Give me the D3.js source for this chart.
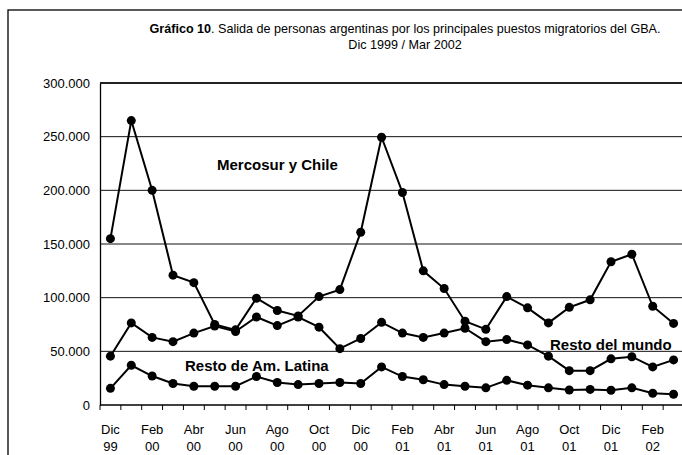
<!DOCTYPE html>
<html><head><meta charset="utf-8">
<script src="https://cdn.jsdelivr.net/npm/d3@7"></script>
<style>
html,body{margin:0;padding:0;background:#fff;}
svg{display:block;font-family:"Liberation Sans",Arial,sans-serif;}
</style></head>
<body>
<svg id="c" width="682" height="455"></svg>
<script>
const months = ["Dic 99","Ene 00","Feb 00","Mar 00","Abr 00","May 00","Jun 00","Jul 00","Ago 00","Sep 00","Oct 00","Nov 00",
"Dic 00","Ene 01","Feb 01","Mar 01","Abr 01","May 01","Jun 01","Jul 01","Ago 01","Sep 01","Oct 01","Nov 01",
"Dic 01","Ene 02","Feb 02","Mar 02"];
const mercosur = [155000,265000,200000,121000,114000,75000,70000,99500,88000,83000,101000,107500,
161000,249500,198000,125000,108500,78000,70500,101000,90500,76500,91000,98000,133500,140500,92000,76000];
const restoMundo = [45500,76500,63000,59000,67000,73500,68500,82000,74000,82000,72500,52500,
62000,77000,67000,63000,67000,71500,59000,61000,56000,45500,32000,32000,43000,45000,35500,42000];
const restoAmLat = [15500,37000,27000,20000,17500,17500,17500,26500,21000,19000,20000,21000,
20000,35500,26500,23500,19000,17500,16000,23000,18500,16000,14000,14500,13700,16000,11000,10000];
const yTicks = [0,50000,100000,150000,200000,250000,300000];
const yTickLabels = ["0","50.000","100.000","150.000","200.000","250.000","300.000"];
const xTickLabels = ["Dic|99","Feb|00","Abr|00","Jun|00","Ago|00","Oct|00","Dic|00","Feb|01","Abr|01","Jun|01","Ago|01","Oct|01","Dic|01","Feb|02"];

const svg = d3.select("#c");
const L=100, R=684, T=83, B=405;
const x = d3.scaleBand().domain(months).range([L,R]);
const y = d3.scaleLinear().domain([0,300000]).range([B,T]);

// outer frame
svg.append("rect").attr("x",8).attr("y",10).attr("width",700).attr("height",460)
  .attr("fill","none").attr("stroke","#000").attr("stroke-width",1.3);

// title
const t = svg.append("text").attr("x",405).attr("y",33).attr("text-anchor","middle").attr("font-size",12.6);
t.append("tspan").attr("font-weight","bold").text("Gráfico 10");
t.append("tspan").text(". Salida de personas argentinas por los principales puestos migratorios del GBA.");
svg.append("text").attr("x",405).attr("y",49).attr("text-anchor","middle").attr("font-size",12.6).text("Dic 1999 / Mar 2002");

// gridlines
svg.append("g").selectAll("line").data(yTicks.slice(1)).join("line")
  .attr("x1",L).attr("x2",R).attr("y1",d=>y(d)).attr("y2",d=>y(d))
  .attr("stroke","#111").attr("stroke-width",1);

// y axis
const yAxis = d3.axisLeft(y).tickValues(yTicks).tickSize(0).tickPadding(10)
  .tickFormat((d,i)=>yTickLabels[i]);
const gy = svg.append("g").attr("transform",`translate(${L},0)`).call(yAxis);
gy.select(".domain").attr("stroke","#000").attr("stroke-width",1.3);
gy.selectAll("text").attr("font-size",13).attr("font-family","Liberation Sans, Arial, sans-serif").attr("fill","#000");

// x axis
const gx = svg.append("g").attr("transform",`translate(0,${B})`);
gx.append("line").attr("x1",L).attr("x2",R).attr("stroke","#000").attr("stroke-width",1.3);
const bounds = months.map((m)=>x(m)).concat([R]);
gx.selectAll("line.tk").data(bounds).join("line").attr("class","tk")
  .attr("x1",d=>d).attr("x2",d=>d).attr("y1",0).attr("y2",5).attr("stroke","#000");
const labeled = months.filter((m,i)=>i%2===0);
labeled.forEach((m,i)=>{
  const parts = xTickLabels[i].split("|");
  const cx = x(m)+x.bandwidth()/2;
  const tx = gx.append("text").attr("x",cx).attr("text-anchor","middle").attr("font-size",13);
  tx.append("tspan").attr("x",cx).attr("y",29).text(parts[0]);
  tx.append("tspan").attr("x",cx).attr("y",46).text(parts[1]);
});

// plot top border
svg.append("line").attr("x1",L).attr("x2",R).attr("y1",T).attr("y2",T).attr("stroke","#000").attr("stroke-width",1.3);

// series
const line = d3.line().x((d,i)=>x(months[i])+x.bandwidth()/2).y(d=>y(d));
[mercosur,restoMundo,restoAmLat].forEach(s=>{
  svg.append("path").datum(s).attr("d",line).attr("fill","none").attr("stroke","#000").attr("stroke-width",2);
  svg.append("g").selectAll("circle").data(s).join("circle")
    .attr("cx",(d,i)=>x(months[i])+x.bandwidth()/2).attr("cy",d=>y(d)).attr("r",4.5).attr("fill","#000");
});

// series labels
svg.append("text").attr("x",217).attr("y",170).attr("font-size",15).attr("font-weight","bold").text("Mercosur y Chile");
svg.append("text").attr("x",185).attr("y",371).attr("font-size",15).attr("font-weight","bold").text("Resto de Am. Latina");
svg.append("text").attr("x",550).attr("y",350).attr("font-size",15).attr("font-weight","bold").text("Resto del mundo");
</script>
</body></html>
